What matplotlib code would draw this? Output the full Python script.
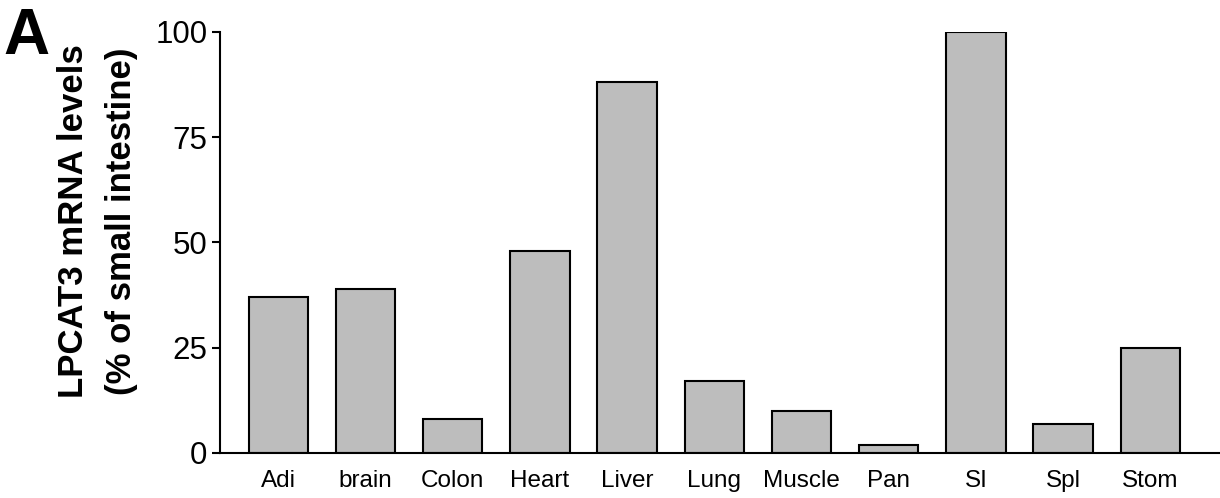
import matplotlib.pyplot as plt

plt.rcParams['font.family'] = ['Liberation Sans', 'DejaVu Sans']

tissues = ['Adi', 'brain', 'Colon', 'Heart', 'Liver', 'Lung', 'Muscle', 'Pan', 'SI', 'Spl', 'Stom']
levels = [37, 39, 8, 48, 88, 17, 10, 2, 100, 7, 25]
yticks = [0, 25, 50, 75, 100]

fig = plt.figure(figsize=(12.2, 4.98), dpi=100)
ax = fig.add_axes([0.1803, 0.0904, 0.8197, 0.8454])

x = range(len(tissues))
ax.bar(x, levels, width=0.68, color='#bdbdbd', edgecolor='black', linewidth=1.5)

ax.set_xlim(-0.67, 10.8)
ax.set_ylim(0, 100)
ax.set_yticks(yticks)
ax.set_xticks(list(x))
ax.set_xticklabels(tissues, fontsize=17.5)
ax.tick_params(axis='y', labelsize=22.5, length=6, width=1.5, pad=3)
ax.tick_params(axis='x', length=0, pad=12)

for side in ['top', 'right']:
    ax.spines[side].set_visible(False)
for side in ['left', 'bottom']:
    ax.spines[side].set_linewidth(1.5)

fig.text(0.080, 0.556, 'LPCAT3 mRNA levels\n(% of small intestine)', rotation=90,
         ha='center', va='center', fontsize=25, fontweight='bold', linespacing=1.6)
fig.text(0.003, 0.985, 'A', ha='left', va='top', fontsize=46, fontweight='bold')

fig.savefig('out.png', dpi=100)
